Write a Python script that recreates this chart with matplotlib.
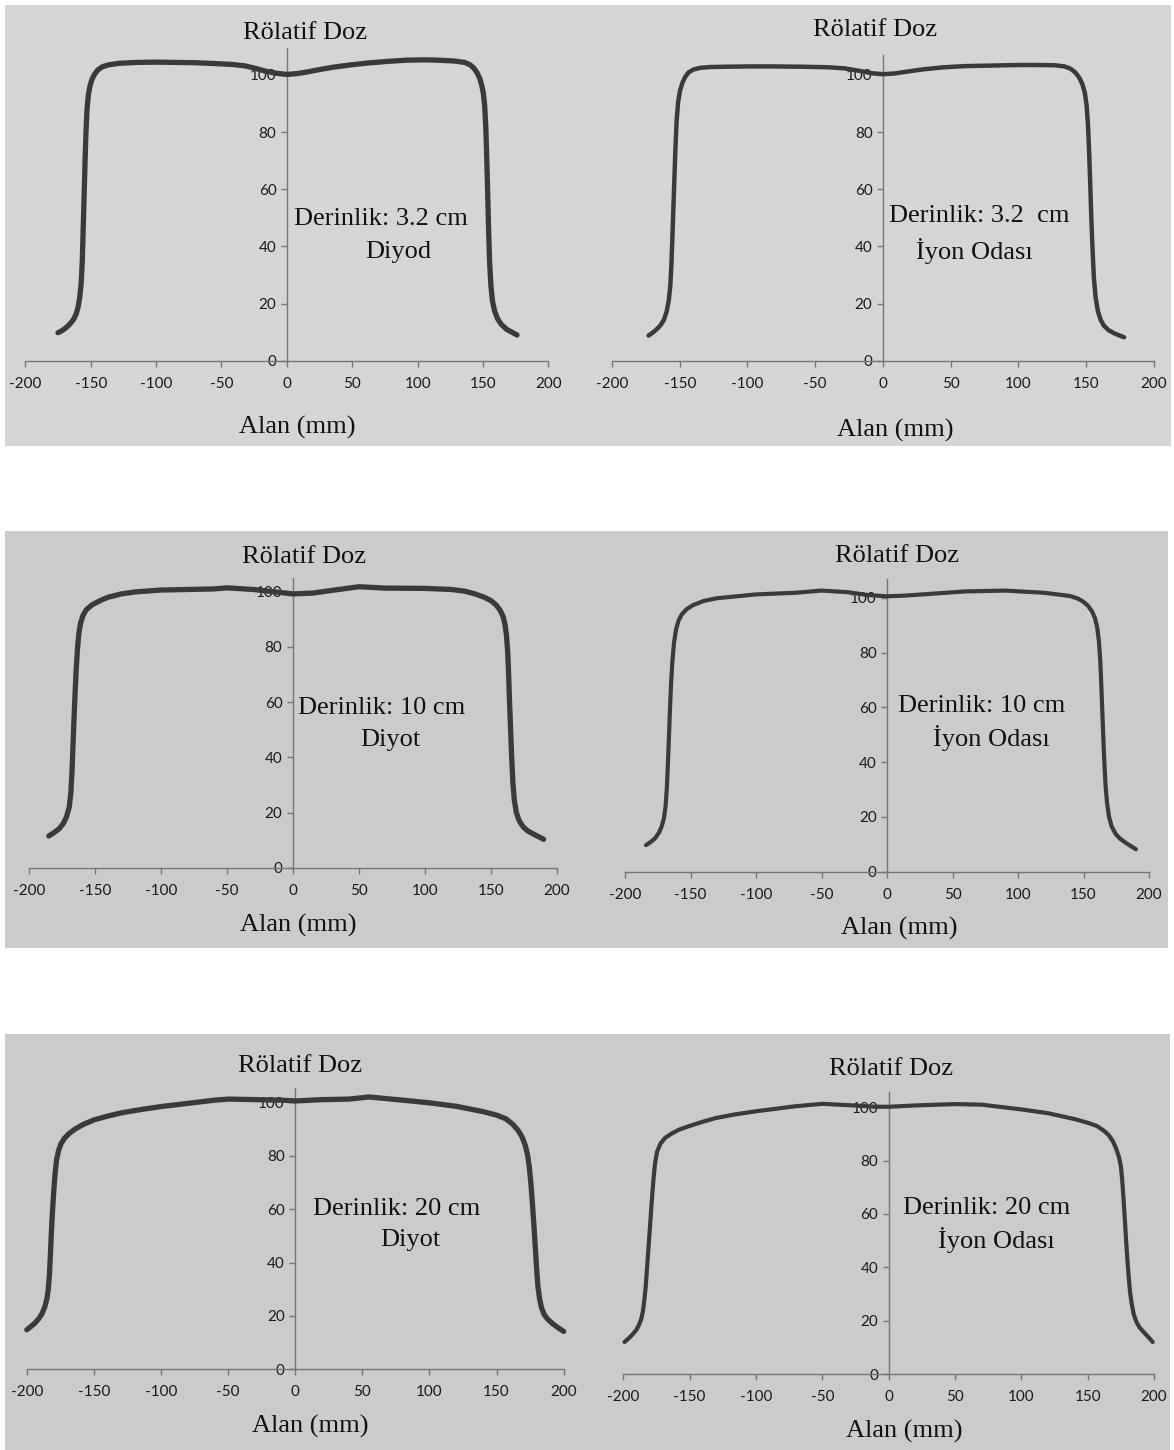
import matplotlib
matplotlib.use("Agg")
import matplotlib.pyplot as plt
from matplotlib.patches import Rectangle

# ---------------- data ----------------
x_tl = [-175, -172, -169, -166, -163, -161, -159.5, -158.3, -157.3, -156.5, -155.8, -155, -154.3, -153.6,
        -152.8, -151.8, -150.5, -149, -147, -144.5, -141, -136, -128, -115, -100, -85, -70, -55, -42,
        -32, -24, -16, -8, 0, 8, 16, 25, 35, 48, 62, 78, 92, 105, 115, 128, 136, 140, 143, 145.5,
        147.5, 149, 150.3, 151.3, 152.1, 152.8, 153.5, 154.2, 155, 156, 157.2, 158.8, 161, 164, 168,
        172, 176]
y_tl = [9.8, 10.5, 11.5, 12.8, 14.5, 16.5, 19.0, 22.5, 27.0, 34.0, 45.0, 58.0, 70.0, 80.0,
        88.0, 93.0, 96.2, 98.5, 100.3, 101.8, 102.9, 103.6, 104.1, 104.4, 104.5, 104.4, 104.3, 104.0, 103.7,
        103.2, 102.3, 101.3, 100.6, 100.2, 100.5, 101.1, 101.9, 102.7, 103.5, 104.2, 104.8, 105.2, 105.3, 105.2, 104.9, 104.4, 103.6, 102.4, 100.8,
        98.8, 96.5, 93.5, 89.0, 82.0, 72.0, 60.0, 47.0, 35.0, 26.5, 21.0, 17.5, 14.8, 12.7, 11.0,
        10.0, 9.0]

x_tr = [-173, -170, -167, -164, -161.5, -159.5, -158, -157, -156.2, -155.5, -154.8, -154, -153.2, -152.3,
        -151.2, -149.8, -148, -146, -143.5, -140, -135, -127, -115, -100, -80, -60, -40, -28,
        -18, -8, 0, 8, 18, 30, 45, 60, 80, 100, 115, 127, 134, 138.5, 142, 145, 147.2, 149,
        150.3, 151.3, 152.2, 153, 153.8, 154.7, 155.7, 157, 158.6, 160.5, 163, 166.5, 171, 178]
y_tr = [8.8, 9.8, 11.0, 12.5, 14.5, 17.5, 21.5, 26.0, 33.0, 42.0, 52.0, 63.0, 74.0, 84.0,
        90.5, 94.5, 97.3, 99.3, 100.9, 101.9, 102.5, 102.8, 102.9, 103.0, 103.0, 102.9, 102.7, 102.3,
        101.5, 100.6, 100.3, 100.5, 101.2, 102.0, 102.7, 103.1, 103.3, 103.5, 103.5, 103.4, 103.0, 102.2, 100.9, 99.0, 96.8, 93.8,
        89.5, 83.0, 73.0, 62.0, 50.0, 39.0, 29.0, 22.0, 17.5, 14.5, 12.3, 10.7, 9.5, 8.2]

x_ml = [-185, -181, -177, -174, -171.5, -169.5, -168.3, -167.4, -166.6, -165.8, -165, -164.2, -163.3,
        -162.3, -161, -159, -156.5, -152, -146, -140, -130, -120, -100, -80, -60, -50, -30, -15,
        0, 15, 30, 50, 70, 100, 120, 130, 138, 145, 150, 154, 157, 159.3, 160.8, 161.9, 162.8,
        163.5, 164.2, 165, 165.8, 166.7, 167.8, 169.3, 171.5, 174.5, 178, 183, 190]
y_ml = [11.5, 12.7, 14.2, 16.0, 18.5, 22.0, 27.0, 35.0, 45.0, 55.0, 64.0, 72.0, 79.0,
        84.5, 88.5, 91.5, 93.5, 95.3, 96.8, 98.0, 99.2, 99.9, 100.6, 100.8, 101.0, 101.4, 100.8, 100.0,
        99.2, 99.5, 100.5, 101.8, 101.3, 101.2, 100.8, 100.2, 99.2, 98.0, 96.8, 95.2, 93.3, 91.0, 88.0, 84.0, 78.0,
        70.0, 60.0, 50.0, 40.0, 31.0, 24.5, 20.0, 17.0, 14.8, 13.3, 12.0, 10.3]

x_mr = [-184, -180.5, -177, -174, -172, -170.3, -169, -168, -167.2, -166.4, -165.6, -164.8, -163.8,
        -162.6, -161, -159, -156.5, -153, -148, -140, -130, -100, -70, -50, -30, -15, 0, 15, 30,
        60, 90, 120, 140, 146, 150, 153.5, 156.5, 158.8, 160.5, 161.8, 162.8, 163.6, 164.4, 165.2,
        166, 166.9, 168, 169.5, 171.5, 174.5, 178, 183, 190]
y_mr = [9.7, 10.8, 12.2, 14.3, 16.5, 19.5, 24.0, 31.0, 40.0, 50.0, 60.0, 69.0, 77.0,
        83.5, 88.5, 91.8, 94.0, 95.8, 97.3, 98.8, 99.8, 101.2, 101.8, 102.6, 102.0, 101.0, 100.5, 100.8, 101.3,
        102.3, 102.6, 101.8, 100.6, 99.6, 98.5, 97.0, 95.0, 92.5, 89.0, 84.0, 77.0, 68.0, 58.0, 48.0,
        39.0, 31.0, 25.0, 20.0, 16.5, 13.8, 12.0, 10.3, 8.2]

x_bl = [-200, -197, -194, -191, -188.5, -186.5, -185, -184, -183.2, -182.5, -181.8, -181, -180, -179,
        -177.8, -176.3, -174.5, -172, -168.5, -164, -158, -150, -140, -130, -115, -100, -80, -60, -50,
        -30, -10, 0, 20, 40, 55, 80, 100, 120, 140, 150, 157, 162, 166, 169, 171.3, 173, 174.3,
        175.5, 176.7, 177.8, 178.8, 179.8, 180.8, 182, 183.5, 185.5, 188, 192, 196, 200]
y_bl = [14.8, 16.0, 17.3, 19.0, 21.0, 23.5, 26.5, 30.0, 35.0, 42.0, 50.0, 58.0, 66.0, 73.0,
        78.5, 82.0, 84.5, 86.5, 88.3, 90.0, 91.7, 93.4, 94.8, 96.0, 97.3, 98.4, 99.6, 100.8, 101.2,
        101.0, 100.8, 100.5, 101.0, 101.2, 102.0, 100.8, 99.8, 98.5, 96.5, 95.2, 93.8, 91.8, 89.5, 87.0, 84.0, 80.5, 76.0,
        70.0, 62.0, 54.0, 46.0, 38.0, 31.0, 26.5, 23.0, 20.5, 18.8, 17.0, 15.5, 14.2]

x_br = [-199, -196, -193, -190, -188, -186.3, -185, -184, -183, -182, -181, -180, -179, -178, -177,
        -176, -174.5, -172, -168.5, -164, -158, -150, -140, -130, -115, -100, -70, -50, -30, -10,
        0, 20, 50, 70, 100, 120, 140, 150, 157, 162, 166, 169, 171.5, 173.5, 175, 176, 177, 178,
        179, 180, 181, 182, 183.3, 184.7, 186.5, 189, 192, 195.5, 199]
y_br = [12.0, 13.3, 14.8, 16.6, 18.5, 20.8, 24.0, 28.0, 33.0, 40.0, 47.0, 54.0, 61.0, 68.0, 74.0,
        79.0, 83.3, 86.3, 88.5, 90.0, 91.6, 93.0, 94.6, 96.0, 97.4, 98.5, 100.4, 101.3, 100.8, 100.2,
        100.2, 100.7, 101.2, 101.0, 99.2, 97.8, 95.6, 94.2, 93.0, 91.3, 89.5, 87.3, 84.5, 81.5, 78.0, 73.0, 66.0, 58.0,
        50.0, 42.5, 36.0, 30.5, 26.0, 22.5, 19.8, 17.5, 15.8, 14.0, 12.0]

x_ticks = [-200, -150, -100, -50, 0, 50, 100, 150, 200]
y_ticks = [0, 20, 40, 60, 80, 100]
y_title = "Rölatif Doz"
x_title = "Alan (mm)"
depth_labels = ["Derinlik: 3.2 cm", "Derinlik: 3.2  cm", "Derinlik: 10 cm",
                "Derinlik: 10 cm", "Derinlik: 20 cm", "Derinlik: 20 cm"]
detector_labels = ["Diyod", "İyon Odası", "Diyot", "İyon Odası", "Diyot", "İyon Odası"]

# ---------------- layout ----------------
W, H = 1174, 1450
fig = plt.figure(figsize=(W / 100, H / 100), dpi=100)
fig.patch.set_facecolor("white")

def fx(px):
    return px / W

def fy(py):
    return 1 - py / H

# row backgrounds (x0, y0, x1, y1, colour)
rows = [(5, 5, 1171, 446, "#d5d5d5"),
        (5, 531, 1168, 948, "#cbcbcb"),
        (5, 1034, 1170, 1450, "#cbcbcb")]
for x0, y0, x1, y1, c in rows:
    fig.patches.append(Rectangle((fx(x0), fy(y1)), (x1 - x0) / W, (y1 - y0) / H,
                                 transform=fig.transFigure, facecolor=c,
                                 edgecolor="none", zorder=-5))

# panels: px(-200), px(200), py(0), py(axis top), px/unit y, title pos, xlabel pos, annotation pos
panels = [
    dict(x0=25.3, x1=548.4, y0=360.7, yt=48.3, ppu=2.857, title=(305, 33), xl=(297, 427),
         a1=(294, 219), a2=(398, 252), lw=3.8),
    dict(x0=612, x1=1153.9, y0=360.7, yt=55, ppu=2.857, title=(875, 30), xl=(895, 430),
         a1=(889, 216), a2=(974, 251), lw=3.2),
    dict(x0=29, x1=556.8, y0=867.7, yt=578, ppu=2.76, title=(304, 557), xl=(298.5, 925),
         a1=(298.5, 708), a2=(390, 740), lw=3.8),
    dict(x0=625, x1=1149, y0=871.7, yt=579, ppu=2.74, title=(897, 556), xl=(899.6, 928),
         a1=(897.6, 706), a2=(991, 738), lw=3.0),
    dict(x0=26.8, x1=563.7, y0=1369.3, yt=1088.3, ppu=2.67, title=(300, 1066), xl=(310, 1426),
         a1=(313, 1209), a2=(410, 1240), lw=3.8),
    dict(x0=623.2, x1=1154, y0=1374, yt=1091.7, ppu=2.667, title=(891, 1069), xl=(904, 1431),
         a1=(903, 1208), a2=(996, 1240), lw=3.0),
]
series = [(x_tl, y_tl), (x_tr, y_tr), (x_ml, y_ml), (x_mr, y_mr), (x_bl, y_bl), (x_br, y_br)]

serif = ["Liberation Serif", "DejaVu Serif"]
sans = ["Lato", "DejaVu Sans"]
axis_col = "#767676"
line_col = "#3a3a3a"
fs = 19

for i, (p, (xs, ys)) in enumerate(zip(panels, series)):
    ytop = (p["y0"] - p["yt"]) / p["ppu"]
    ax = fig.add_axes([fx(p["x0"]), fy(p["y0"]), (p["x1"] - p["x0"]) / W, (p["y0"] - p["yt"]) / H])
    ax.set_facecolor("none")
    ax.set_zorder(2)
    ax.plot(xs, ys, color=line_col, lw=p["lw"], solid_capstyle="round", solid_joinstyle="round",
            zorder=3, clip_on=False)
    ax.set_xlim(-200, 200)
    ax.set_ylim(0, ytop)
    for s in ("top", "right"):
        ax.spines[s].set_visible(False)
    ax.spines["left"].set_position(("data", 0))
    for s in ("left", "bottom"):
        ax.spines[s].set_color(axis_col)
        ax.spines[s].set_linewidth(1.0)
    ax.set_xticks(x_ticks)
    ax.set_yticks(y_ticks)
    ax.set_xticklabels([str(v) for v in x_ticks])
    ax.set_yticklabels([str(v) for v in y_ticks])
    ax.tick_params(axis="x", direction="out", length=4.5, width=1.0, color=axis_col, pad=7,
                   labelsize=11, labelcolor="#1a1a1a")
    ax.tick_params(axis="y", direction="out", length=4.5, width=1.0, color=axis_col, pad=3,
                   labelsize=11, labelcolor="#1a1a1a")
    for lab in ax.get_xticklabels() + ax.get_yticklabels():
        lab.set_family(sans)

    fig.text(fx(p["title"][0]), fy(p["title"][1]), y_title, ha="center", va="center",
             family=serif, fontsize=fs, color="#111111")
    fig.text(fx(p["xl"][0]), fy(p["xl"][1]), x_title, ha="center", va="center",
             family=serif, fontsize=fs, color="#111111")
    fig.text(fx(p["a1"][0]), fy(p["a1"][1]), depth_labels[i], ha="left", va="center",
             family=serif, fontsize=fs, color="#111111")
    fig.text(fx(p["a2"][0]), fy(p["a2"][1]), detector_labels[i], ha="center", va="center",
             family=serif, fontsize=fs, color="#111111")

fig.savefig("out.png", dpi=100, facecolor="white")
